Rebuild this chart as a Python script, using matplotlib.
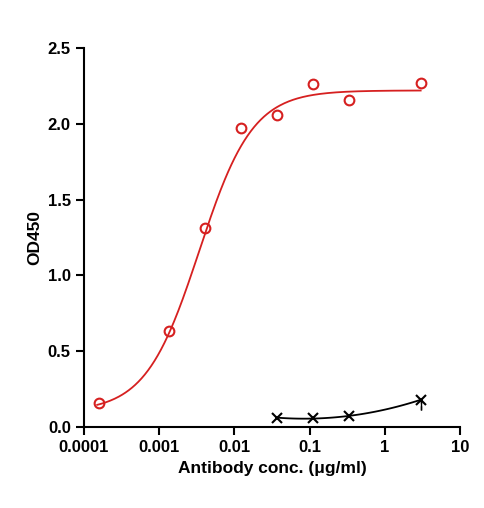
import numpy as np
import matplotlib
matplotlib.use("Agg")
import matplotlib.pyplot as plt

plt.rcParams['font.family'] = ['Liberation Sans', 'DejaVu Sans']

red_x = [0.00016, 0.00137, 0.0041, 0.0123, 0.037, 0.111, 0.333, 3.0]
red_y = [0.16, 0.63, 1.31, 1.97, 2.06, 2.26, 2.16, 2.27]
blk_x = [0.037, 0.111, 0.333, 3.0]
blk_y = [0.06, 0.06, 0.07, 0.18]
blk_err = [0.0, 0.0, 0.0, 0.07]
# 4PL fit parameters for red curve
bottom, top, ec50, hill = 0.10, 2.22, 0.0034, 1.22

fig = plt.figure(figsize=(4.85, 5.08), dpi=100)
ax = fig.add_axes([84/485, 81/508, 376/485, 379/508])

xs = np.logspace(np.log10(0.00015), np.log10(3.0), 300)
ys = bottom + (top - bottom) / (1 + (ec50 / xs) ** hill)
ax.plot(xs, ys, color='#d62020', lw=1.3)
ax.plot(red_x, red_y, 'o', mfc='none', mec='#d62020', mew=1.5, ms=7)

lx = np.log10(blk_x)
c = np.polyfit(lx, blk_y, 2)
xb = np.linspace(lx[0], lx[-1], 100)
ax.plot(10 ** xb, np.polyval(c, xb), color='black', lw=1.3)
ax.plot(blk_x, blk_y, 'x', color='black', ms=7, mew=1.5)
ax.errorbar(blk_x, blk_y, yerr=[blk_err, [0]*4], fmt='none', ecolor='black',
            elinewidth=1, capsize=0, linestyle='--')
ax.vlines([blk_x[-1]], [blk_y[-1] - blk_err[-1]], [blk_y[-1]], colors='black',
          lw=1, linestyles=(0, (3, 2)))

ax.set_xscale('log')
ax.set_xlim(1e-4, 10)
ax.set_ylim(0, 2.5)
ax.set_xticks([1e-4, 1e-3, 1e-2, 1e-1, 1, 10])
ax.set_xticklabels(['0.0001', '0.001', '0.01', '0.1', '1', '10'])
ax.minorticks_off()
ax.set_yticks([0, 0.5, 1.0, 1.5, 2.0, 2.5])
ax.set_yticklabels(['0.0', '0.5', '1.0', '1.5', '2.0', '2.5'])
for s in ['top', 'right']:
    ax.spines[s].set_visible(False)
for s in ['left', 'bottom']:
    ax.spines[s].set_linewidth(1.5)
ax.tick_params(width=1.5, length=6, labelsize=12, direction='out')
for t in ax.get_xticklabels() + ax.get_yticklabels():
    t.set_fontweight('bold')
ax.set_xlabel('Antibody conc. (μg/ml)', fontsize=12.5, fontweight='bold')
ax.set_ylabel('OD450', fontsize=12.5, fontweight='bold')
fig.savefig('out.png', dpi=100)
